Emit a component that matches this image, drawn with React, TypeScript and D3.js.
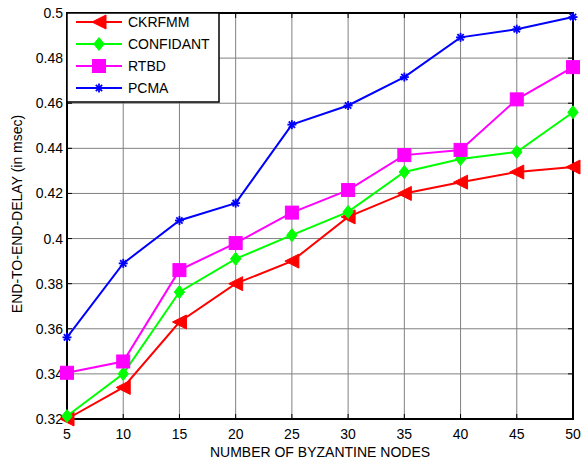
import React from "react";
import * as d3 from "d3";

const xValues = [5, 10, 15, 20, 25, 30, 35, 40, 45, 50];
const ckrfmm = [0.32, 0.334, 0.363, 0.38, 0.39, 0.4096, 0.42, 0.425, 0.4295, 0.4317];
const confidant = [0.3213, 0.34, 0.3763, 0.391, 0.4015, 0.4118, 0.4295, 0.4353, 0.4384, 0.456];
const rtbd = [0.3405, 0.3455, 0.386, 0.398, 0.4115, 0.4215, 0.437, 0.4393, 0.4617, 0.476];
const pcma = [0.3562, 0.389, 0.408, 0.4157, 0.4505, 0.459, 0.4716, 0.4892, 0.4928, 0.4982];
const yTicks = [0.32, 0.34, 0.36, 0.38, 0.4, 0.42, 0.44, 0.46, 0.48, 0.5];
const seriesNames = ["CKRFMM", "CONFIDANT", "RTBD", "PCMA"];
const seriesColors = ["#ff0000", "#00ff00", "#ff00ff", "#0000ff"];
const seriesMarkers = ["triangle", "diamond", "square", "star"];

const W = 582, H = 463;
const L = 67, R = 573, T = 13, B = 419;

function Marker({ type, x, y, color }: { type: string; x: number; y: number; color: string }) {
  if (type === "triangle") {
    const s = 7;
    return <path d={`M${x - s},${y} L${x + s},${y - s} L${x + s},${y + s} Z`} fill={color} stroke={color} strokeWidth={1} />;
  }
  if (type === "diamond") {
    const s = 6.5;
    return <path d={`M${x},${y - s} L${x + s * 0.8},${y} L${x},${y + s} L${x - s * 0.8},${y} Z`} fill={color} stroke={color} strokeWidth={1} />;
  }
  if (type === "square") {
    const s = 6.5;
    return <rect x={x - s} y={y - s} width={2 * s} height={2 * s} fill={color} stroke={color} strokeWidth={1} />;
  }
  const s = 4.5;
  return (
    <g stroke={color} strokeWidth={1.8}>
      <line x1={x - s} y1={y} x2={x + s} y2={y} />
      <line x1={x} y1={y - s} x2={x} y2={y + s} />
      <line x1={x - s * 0.7} y1={y - s * 0.7} x2={x + s * 0.7} y2={y + s * 0.7} />
      <line x1={x - s * 0.7} y1={y + s * 0.7} x2={x + s * 0.7} y2={y - s * 0.7} />
    </g>
  );
}

export default function App() {
  const x = d3.scaleLinear().domain([5, 50]).range([L, R]);
  const y = d3.scaleLinear().domain([0.32, 0.5]).range([B, T]);
  const data = [ckrfmm, confidant, rtbd, pcma];
  const line = d3.line<number>().x((_, i) => x(xValues[i])).y((d) => y(d));
  const font = "'Liberation Sans', Arial, sans-serif";
  const fmt = (v: number) => String(+v.toFixed(2));
  return (
    <svg width={W} height={H} style={{ position: "absolute", left: 0, top: 0, background: "#fff" }} fontFamily={font}>
      <rect x={0} y={0} width={W} height={H} fill="#fff" />
      {xValues.map((v) => (
        <line key={"gx" + v} x1={x(v)} x2={x(v)} y1={T} y2={B} stroke="#808080" strokeWidth={1} />
      ))}
      {yTicks.map((v) => (
        <line key={"gy" + v} x1={L} x2={R} y1={y(v)} y2={y(v)} stroke="#808080" strokeWidth={1} />
      ))}
      {xValues.map((v) => (
        <g key={"tx" + v} stroke="#000" strokeWidth={1}>
          <line x1={x(v)} x2={x(v)} y1={B} y2={B - 5} />
          <line x1={x(v)} x2={x(v)} y1={T} y2={T + 5} />
        </g>
      ))}
      {yTicks.map((v) => (
        <g key={"ty" + v} stroke="#000" strokeWidth={1}>
          <line x1={L} x2={L + 5} y1={y(v)} y2={y(v)} />
          <line x1={R} x2={R - 5} y1={y(v)} y2={y(v)} />
        </g>
      ))}
      <rect x={L} y={T} width={R - L} height={B - T} fill="none" stroke="#000" strokeWidth={2} />
      {xValues.map((v) => (
        <text key={"lx" + v} x={x(v)} y={B + 20} textAnchor="middle" fontSize={14} fill="#000">{v}</text>
      ))}
      {yTicks.map((v) => (
        <text key={"ly" + v} x={L - 4} y={y(v) + 5} textAnchor="end" fontSize={14} fill="#000">{fmt(v)}</text>
      ))}
      <text x={(L + R) / 2} y={457} textAnchor="middle" fontSize={14} fill="#000">NUMBER OF BYZANTINE NODES</text>
      <text transform={`translate(22,214) rotate(-90)`} textAnchor="middle" fontSize={14} fill="#000">END-TO-END-DELAY (in msec)</text>
      {data.map((d, si) => (
        <g key={"s" + si}>
          <path d={line(d) || ""} fill="none" stroke={seriesColors[si]} strokeWidth={2} />
          {d.map((v, i) => (
            <Marker key={i} type={seriesMarkers[si]} x={x(xValues[i])} y={y(v)} color={seriesColors[si]} />
          ))}
        </g>
      ))}
      <rect x={67} y={13} width={152} height={89} fill="#fff" stroke="#000" strokeWidth={1.5} />
      {seriesNames.map((n, i) => {
        const ly = 22 + i * 22;
        return (
          <g key={"lg" + i}>
            <line x1={76} x2={122} y1={ly} y2={ly} stroke={seriesColors[i]} strokeWidth={2} />
            <Marker type={seriesMarkers[i]} x={99} y={ly} color={seriesColors[i]} />
            <text x={128} y={ly + 5} fontSize={14} fill="#000">{n}</text>
          </g>
        );
      })}
    </svg>
  );
}
